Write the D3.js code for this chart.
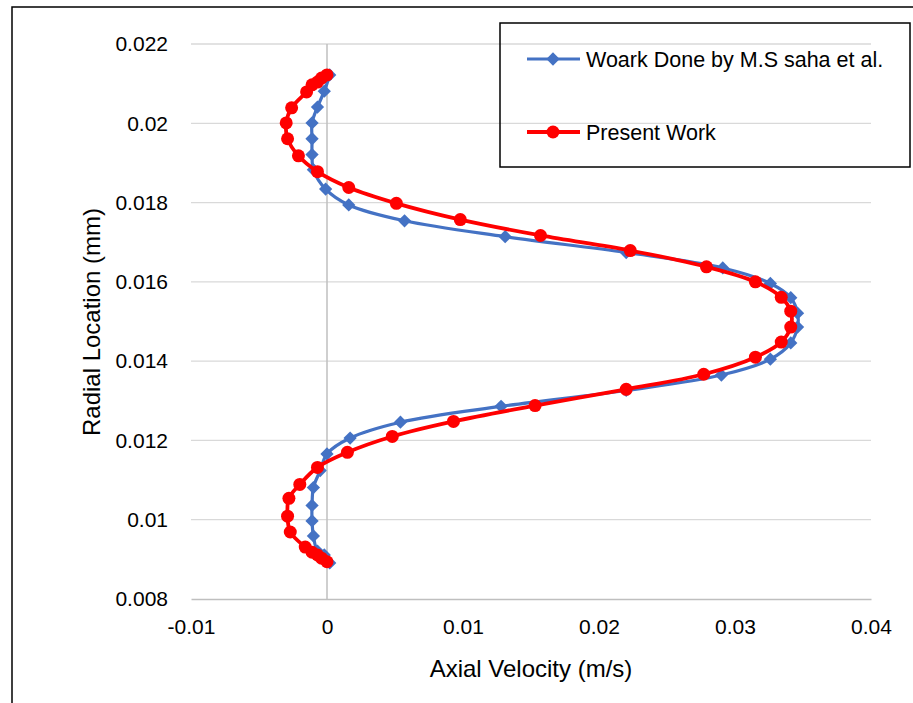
<!DOCTYPE html>
<html><head><meta charset="utf-8">
<script src="https://cdn.jsdelivr.net/npm/d3@7"></script>
<style>body{margin:0;background:#fff}svg{display:block}text{font-family:"Liberation Sans",Arial,sans-serif;fill:#000}</style>
</head><body>
<svg id="c" width="913" height="703"></svg>
<script>
// Work done by M.S Saha et al. (radial location, axial velocity)
const sahaY = [0.02122,0.02081,0.02041,0.02001,0.01961,0.01921,0.01883,0.01834,0.01794,0.01754,0.01714,0.01674,0.01635,0.01596,0.01560,0.01521,0.01486,0.01446,0.01405,0.01365,0.01326,0.01286,0.01246,0.01206,0.01166,0.01124,0.01081,0.01036,0.00997,0.00959,0.00921,0.00911,0.00891];
const sahaX = [0.0002,-0.0002,-0.0007,-0.0011,-0.0011,-0.0011,-0.0010,-0.0001,0.0016,0.0057,0.0131,0.0220,0.0291,0.0326,0.0341,0.0346,0.0346,0.0341,0.0326,0.0290,0.0220,0.0128,0.0054,0.0017,0.0000,-0.0005,-0.0010,-0.0011,-0.0011,-0.0010,-0.0007,-0.0002,0.0002];
// Present work
const presY = [0.02122,0.02114,0.02104,0.02097,0.02079,0.02039,0.02001,0.01961,0.01918,0.01878,0.01838,0.01798,0.01757,0.01717,0.01679,0.01638,0.01600,0.01561,0.01526,0.01486,0.01448,0.01410,0.01367,0.01329,0.01288,0.01248,0.01210,0.01170,0.01132,0.01089,0.01054,0.01009,0.00969,0.00931,0.00918,0.00911,0.00903,0.00894];
const presX = [0.0000,-0.0004,-0.0007,-0.0011,-0.0015,-0.0026,-0.0030,-0.0029,-0.0021,-0.0007,0.0016,0.0051,0.0098,0.0157,0.0223,0.0279,0.0315,0.0334,0.0341,0.0341,0.0334,0.0315,0.0277,0.0220,0.0153,0.0093,0.0048,0.0015,-0.0007,-0.0020,-0.0028,-0.0029,-0.0027,-0.0016,-0.0011,-0.0007,-0.0004,0.0000];
const xTicks = [-0.01,0,0.01,0.02,0.03,0.04];
const xTickLabels = ["-0.01","0","0.01","0.02","0.03","0.04"];
const yTicks = [0.008,0.010,0.012,0.014,0.016,0.018,0.020,0.022];
const yTickLabels = ["0.008","0.01","0.012","0.014","0.016","0.018","0.02","0.022"];
const seriesNames = ["Woark Done by M.S saha et al.","Present Work"];

const svg = d3.select("#c");
const x = d3.scaleLinear().domain([-0.01,0.04]).range([191,871]);
const y = d3.scaleLinear().domain([0.008,0.022]).range([599,44]);

// outer border
svg.append("rect").attr("x",12).attr("y",7).attr("width",960).attr("height",760)
  .attr("fill","none").attr("stroke","#000").attr("stroke-width",1.5);

// gridlines
svg.append("g").selectAll("line").data(yTicks.slice(1)).join("line")
  .attr("x1",x(-0.01)).attr("x2",x(0.04)).attr("y1",d=>y(d)).attr("y2",d=>y(d))
  .attr("stroke","#D9D9D9").attr("stroke-width",1.3);

// axes (no ticks)
const xAxis = d3.axisBottom(x).tickValues(xTicks).tickFormat((d,i)=>xTickLabels[i]).tickSize(0).tickPadding(20);
const gx = svg.append("g").attr("transform",`translate(0,${y(0.008)})`).call(xAxis);
gx.select(".domain").attr("stroke","#BFBFBF").attr("stroke-width",1.5);
gx.selectAll("text").attr("font-size",21).attr("font-family","Liberation Sans, Arial, sans-serif");

const yAxis = d3.axisLeft(y).tickValues(yTicks).tickFormat((d,i)=>yTickLabels[i]).tickSize(0).tickPadding(23);
const gy = svg.append("g").attr("transform",`translate(${x(-0.01)},0)`).call(yAxis);
gy.select(".domain").remove();
gy.selectAll("text").attr("font-size",21).attr("font-family","Liberation Sans, Arial, sans-serif");

// vertical zero axis line
svg.append("line").attr("x1",x(0)).attr("x2",x(0)).attr("y1",y(0.022)).attr("y2",y(0.008))
  .attr("stroke","#BFBFBF").attr("stroke-width",1.5);

// axis titles
svg.append("text").attr("x",531).attr("y",677).attr("text-anchor","middle").attr("font-size",24).text("Axial Velocity (m/s)");
svg.append("text").attr("transform","translate(100,322) rotate(-90)").attr("text-anchor","middle").attr("font-size",24).text("Radial Location (mm)");

const line = d3.line().x(d=>x(d[0])).y(d=>y(d[1])).curve(d3.curveCatmullRom.alpha(0.5));
const saha = sahaX.map((v,i)=>[v,sahaY[i]]);
const pres = presX.map((v,i)=>[v,presY[i]]);

const dsym = d3.symbol().type(d3.symbolSquare).size(88);
svg.append("path").datum(saha).attr("d",line).attr("fill","none").attr("stroke","#4472C4").attr("stroke-width",3.2);
svg.append("g").selectAll("path").data(saha).join("path")
  .attr("d",dsym).attr("transform",d=>`translate(${x(d[0])},${y(d[1])}) rotate(45)`)
  .attr("fill","#4472C4");

svg.append("path").datum(pres).attr("d",line).attr("fill","none").attr("stroke","#FF0000").attr("stroke-width",3.8);
svg.append("g").selectAll("circle").data(pres).join("circle")
  .attr("cx",d=>x(d[0])).attr("cy",d=>y(d[1])).attr("r",6.5).attr("fill","#FF0000");

// legend
const lg = svg.append("g");
lg.append("rect").attr("x",500).attr("y",23).attr("width",410).attr("height",144)
  .attr("fill","none").attr("stroke","#000").attr("stroke-width",1.5);
const ly = [59,132];
lg.append("line").attr("x1",527).attr("x2",580).attr("y1",ly[0]).attr("y2",ly[0]).attr("stroke","#4472C4").attr("stroke-width",3.2);
lg.append("path").attr("d",dsym).attr("transform",`translate(553,${ly[0]}) rotate(45)`).attr("fill","#4472C4");
lg.append("line").attr("x1",527).attr("x2",580).attr("y1",ly[1]).attr("y2",ly[1]).attr("stroke","#FF0000").attr("stroke-width",3.8);
lg.append("circle").attr("cx",553).attr("cy",ly[1]).attr("r",6.5).attr("fill","#FF0000");
lg.selectAll("text.lt").data(seriesNames).join("text").attr("class","lt")
  .attr("x",586).attr("y",(d,i)=>ly[i]+8).attr("font-size",21.5).text(d=>d);
</script>
</body></html>
